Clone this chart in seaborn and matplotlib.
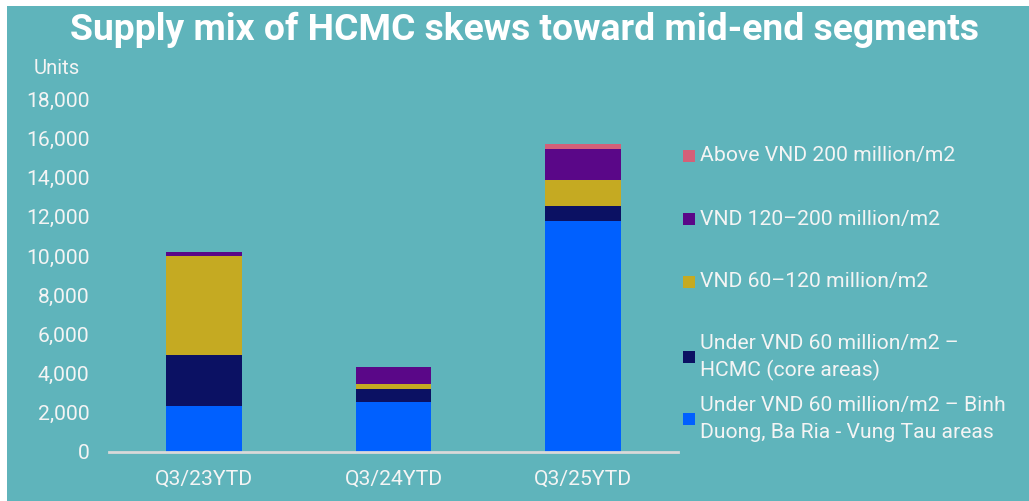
import matplotlib
matplotlib.use("Agg")
import matplotlib.pyplot as plt
from matplotlib.patches import Rectangle
import seaborn as sns
import numpy as np
import pandas as pd

periods = ["Q3/23YTD", "Q3/24YTD", "Q3/25YTD"]
under60_bd_brvt = [2330, 2550, 11800]
under60_hcmc = [2590, 650, 735]
mid_60_120 = [5090, 270, 1345]
high_120_200 = [170, 850, 1580]
above_200 = [0, 0, 255]

series_labels = [
    "Under VND 60 million/m2 \u2013 Binh\nDuong, Ba Ria - Vung Tau areas",
    "Under VND 60 million/m2 \u2013\nHCMC (core areas)",
    "VND 60\u2013120 million/m2",
    "VND 120\u2013200 million/m2",
    "Above VND 200 million/m2",
]
series_values = [under60_bd_brvt, under60_hcmc, mid_60_120, high_120_200, above_200]
colors = ["#0060FF", "#0B1163", "#C5AA22", "#5A0788", "#D46078"]
yticks = [0, 2000, 4000, 6000, 8000, 10000, 12000, 14000, 16000, 18000]

BG = "#5FB4BB"
TXT = "#F4F4F4"
FS = 15.2

sns.set_theme(style="white")
plt.rcParams["font.family"] = ["Roboto", "DejaVu Sans"]

fig = plt.figure(figsize=(10.29, 5.01), dpi=100, facecolor="white")
fig.patches.append(Rectangle((7 / 1029, 0), 1 - 7 / 1029, 1 - 6 / 501,
                             transform=fig.transFigure, facecolor=BG,
                             edgecolor="none", zorder=-10))

ax = fig.add_axes([109 / 1029, 49.3 / 501, (678 - 109) / 1029, (451.7 - 99.3) / 501])
ax.set_facecolor("none")

df = pd.DataFrame({"period": periods})
bottom = np.zeros(len(periods))
for lab, vals, col in zip(series_labels, series_values, colors):
    sns.barplot(x=df["period"], y=np.array(vals, dtype=float), bottom=bottom,
                color=col, width=0.4, linewidth=0, saturation=1, ax=ax)
    bottom = bottom + np.array(vals, dtype=float)

ax.set_xlim(-0.5, 2.5)
ax.set_ylim(0, 18000)
ax.set_yticks(yticks)
ax.set_yticklabels([f"{v:,}" for v in yticks])
ax.tick_params(axis="y", length=0, pad=14, labelsize=FS, labelcolor=TXT)
ax.tick_params(axis="x", length=0, pad=13, labelsize=FS, labelcolor=TXT)
ax.set_xlabel("")
ax.set_ylabel("")
for s in ["top", "right", "left"]:
    ax.spines[s].set_visible(False)
ax.spines["bottom"].set_color("#D9D9D9")
ax.spines["bottom"].set_linewidth(2)
ax.grid(False)

fig.text(56.5 / 1029, 1 - 68 / 501, "Units", ha="center", va="center",
         fontsize=14.6, color=TXT)

fig.text(524 / 1029, 1 - 30 / 501,
         "Supply mix of HCMC skews toward mid-end segments",
         ha="center", va="center", fontsize=26.8, fontweight="bold", color="white")

# legend (top to bottom)
legend_y = [156, 219, 282, 357, 419]
for y, lab, col in zip(legend_y, series_labels[::-1], colors[::-1]):
    fig.patches.append(Rectangle((683 / 1029, 1 - (y + 6) / 501), 12 / 1029, 12 / 501,
                                 transform=fig.transFigure, facecolor=col,
                                 edgecolor="none"))
    if "\n" in lab:
        first, second = lab.split("\n")
        fig.text(700 / 1029, 1 - (y - 13) / 501, first, ha="left", va="center",
                 fontsize=FS, color=TXT)
        fig.text(700 / 1029, 1 - (y + 13) / 501, second, ha="left", va="center",
                 fontsize=FS, color=TXT)
    else:
        fig.text(700 / 1029, 1 - y / 501, lab, ha="left", va="center",
                 fontsize=FS, color=TXT)

fig.savefig("out.png", dpi=100, facecolor="white")
